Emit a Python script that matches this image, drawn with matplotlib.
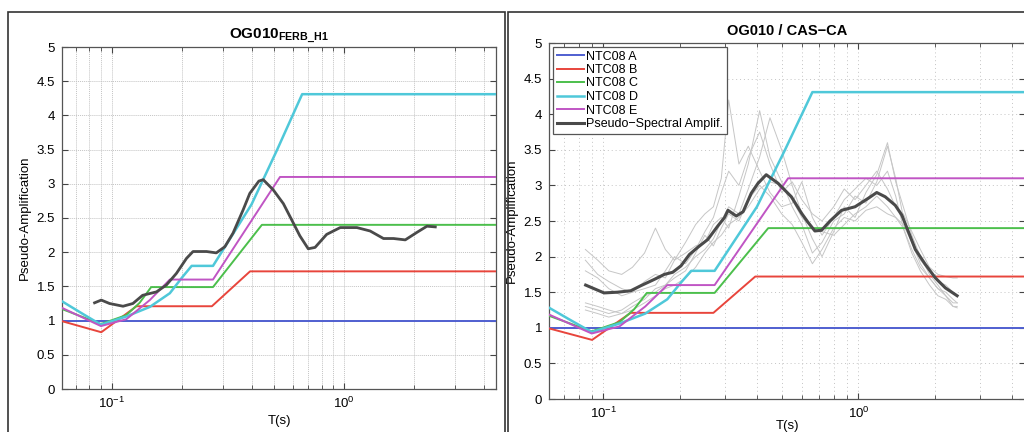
import numpy as np
import matplotlib
matplotlib.use('Agg')
import matplotlib.pyplot as plt
from matplotlib.patches import Rectangle
from matplotlib.ticker import FixedLocator, FixedFormatter, LogLocator, NullFormatter

plt.rcParams['font.family'] = ['Liberation Sans', 'DejaVu Sans']
plt.rcParams['mathtext.fontset'] = 'custom'
plt.rcParams['mathtext.rm'] = 'Liberation Sans'
plt.rcParams['mathtext.bf'] = 'Liberation Sans:bold'

# NTC08 amplification curves (periods in s, amplification)
ntc_a_t = [0.06, 4.5]
ntc_a = [1.0, 1.0]
ntc_b_t = [0.06, 0.0903, 0.128, 0.27, 0.394, 4.5]
ntc_b = [1.0, 0.83, 1.21, 1.21, 1.72, 1.72]
ntc_c_t = [0.06, 0.09, 0.1157, 0.132, 0.148, 0.273, 0.443, 4.5]
ntc_c = [1.18, 0.95, 1.08, 1.26, 1.49, 1.49, 2.40, 2.40]
ntc_d_t = [0.06, 0.075, 0.09, 0.1157, 0.146, 0.178, 0.202, 0.221, 0.273, 0.40, 0.514, 0.66, 4.5]
ntc_d = [1.30, 1.10, 0.94, 1.06, 1.20, 1.40, 1.64, 1.80, 1.80, 2.70, 3.49, 4.31, 4.31]
ntc_e_t = [0.06, 0.09, 0.1157, 0.146, 0.178, 0.273, 0.53, 4.5]
ntc_e = [1.20, 0.92, 1.02, 1.30, 1.60, 1.60, 3.10, 3.10]

# OG010 FERB_H1 pseudo-spectral amplification
ferb_t = [0.0845, 0.0859, 0.0903, 0.098, 0.112, 0.1235, 0.136, 0.156, 0.172, 0.190,
          0.210, 0.224, 0.256, 0.282, 0.307, 0.333, 0.368, 0.393, 0.43, 0.449, 0.496,
          0.548, 0.604, 0.645, 0.701, 0.75, 0.841, 0.962, 1.135, 1.294, 1.477, 1.632,
          1.832, 2.057, 2.271, 2.467]
ferb = [1.26, 1.27, 1.30, 1.25, 1.21, 1.25, 1.37, 1.42, 1.52, 1.69,
        1.91, 2.01, 2.01, 1.99, 2.08, 2.28, 2.62, 2.86, 3.04, 3.06, 2.91,
        2.71, 2.43, 2.24, 2.05, 2.07, 2.26, 2.36, 2.36, 2.31, 2.20, 2.20,
        2.18, 2.29, 2.38, 2.37]

# OG010 / CAS-CA mean pseudo-spectral amplification
cas_t = [0.0852, 0.1006, 0.1135, 0.128, 0.140, 0.1584, 0.1734, 0.187, 0.2015, 0.2175,
         0.2345, 0.2566, 0.281, 0.2987, 0.308, 0.332, 0.353, 0.380, 0.404, 0.435,
         0.484, 0.546, 0.598, 0.635, 0.675, 0.717, 0.774, 0.859, 0.970, 1.094,
         1.18, 1.274, 1.395, 1.481, 1.574, 1.672, 1.830, 2.004, 2.193, 2.438]
cas = [1.60, 1.49, 1.50, 1.52, 1.59, 1.68, 1.75, 1.78, 1.87, 2.03,
       2.13, 2.24, 2.43, 2.55, 2.65, 2.57, 2.63, 2.89, 3.03, 3.15,
       3.03, 2.84, 2.61, 2.48, 2.36, 2.37, 2.50, 2.65, 2.70, 2.82,
       2.90, 2.84, 2.72, 2.58, 2.34, 2.10, 1.89, 1.70, 1.56, 1.45]

# individual records (CAS-CA)
rec_t = [0.085, 0.095, 0.105, 0.118, 0.13, 0.145, 0.16, 0.175, 0.19, 0.21, 0.23, 0.25,
         0.27, 0.29, 0.31, 0.34, 0.37, 0.41, 0.45, 0.50, 0.55, 0.60, 0.66, 0.72, 0.80,
         0.88, 0.97, 1.07, 1.18, 1.30, 1.40, 1.50, 1.62, 1.75, 1.90, 2.05, 2.20, 2.35, 2.44]
rec1 = [2.10, 1.95, 1.80, 1.75, 1.85, 2.05, 2.40, 2.10, 1.95, 2.20, 2.45, 2.60,
        2.70, 3.10, 4.20, 3.30, 3.55, 3.20, 2.90, 2.70, 2.75, 3.05, 2.55, 2.30, 2.55,
        2.80, 2.95, 3.10, 3.00, 3.20, 2.85, 2.40, 2.10, 1.85, 1.70, 1.55, 1.50, 1.40, 1.35]
rec2 = [1.80, 1.70, 1.55, 1.45, 1.50, 1.65, 1.75, 1.70, 1.95, 2.05, 2.15, 2.20,
        2.45, 2.55, 2.40, 2.85, 3.30, 4.05, 3.40, 3.05, 2.70, 2.45, 2.05, 2.20, 2.50,
        2.60, 2.85, 2.75, 3.05, 3.55, 3.10, 2.55, 2.20, 1.95, 1.80, 1.65, 1.60, 1.50, 1.45]
rec3 = [1.35, 1.30, 1.25, 1.20, 1.30, 1.40, 1.55, 1.60, 1.75, 1.85, 2.00, 2.10,
        2.25, 2.50, 2.70, 2.60, 2.95, 3.40, 3.95, 3.50, 3.00, 2.60, 2.25, 2.00, 2.35,
        2.70, 2.55, 2.90, 3.15, 3.60, 3.05, 2.70, 2.30, 2.00, 1.75, 1.60, 1.45, 1.30, 1.28]
rec4 = [1.30, 1.25, 1.20, 1.25, 1.35, 1.45, 1.50, 1.60, 1.70, 1.80, 2.05, 2.30,
        2.15, 2.40, 2.60, 2.50, 2.80, 3.00, 2.85, 2.60, 2.45, 2.20, 1.90, 2.10, 2.40,
        2.55, 2.50, 2.65, 2.70, 2.60, 2.55, 2.40, 2.05, 1.80, 1.60, 1.45, 1.40, 1.30, 1.30]
rec5 = [1.95, 1.75, 1.65, 1.55, 1.50, 1.55, 1.60, 1.80, 2.00, 1.90, 2.10, 2.35,
        2.55, 2.90, 3.20, 3.00, 3.40, 3.75, 3.30, 2.90, 3.05, 2.80, 2.60, 2.50, 2.70,
        2.95, 2.80, 3.00, 3.20, 2.95, 2.70, 2.60, 2.35, 2.10, 1.85, 1.75, 1.72, 1.70, 1.70]
rec6 = [1.25, 1.20, 1.15, 1.20, 1.25, 1.35, 1.45, 1.55, 1.60, 1.70, 1.85, 2.05,
        2.20, 2.30, 2.45, 2.55, 2.70, 2.95, 3.05, 3.00, 2.80, 2.55, 2.40, 2.35, 2.30,
        2.45, 2.60, 2.70, 2.85, 2.70, 2.55, 2.45, 2.20, 1.90, 1.70, 1.55, 1.45, 1.35, 1.35]
records = [rec1, rec2, rec3, rec4, rec5, rec6]

ntc_labels = ['NTC08 A', 'NTC08 B', 'NTC08 C', 'NTC08 D', 'NTC08 E']
ntc_colors = ['#4f5fd0', '#e8453c', '#4cbf4c', '#4fc8d9', '#c055c4']


def style_axis(ax, dotted, xpad):
    ax.set_xscale('log')
    ax.set_xlim(0.0612, 4.5)
    ax.set_ylim(0, 5)
    ax.set_yticks(np.arange(0, 5.01, 0.5))
    ax.set_yticklabels(['0', '0.5', '1', '1.5', '2', '2.5', '3', '3.5', '4', '4.5', '5'])
    ax.xaxis.set_major_locator(FixedLocator([0.1, 1.0]))
    ax.xaxis.set_major_formatter(FixedFormatter(['$10^{-1}$', '$10^{0}$']))
    ax.xaxis.set_minor_locator(LogLocator(base=10, subs=np.arange(2, 10)))
    ax.xaxis.set_minor_formatter(NullFormatter())
    ls = (0, (1, 3)) if dotted else (0, (1, 1))
    ax.grid(True, which='both', axis='x', color='#c4c4c4', lw=0.7, ls=ls)
    ax.grid(True, which='major', axis='y', color='#c4c4c4', lw=0.7, ls=ls)
    ax.tick_params(which='both', direction='in', top=True, right=True,
                   labelsize=9.5, color='#444444', pad=5)
    ax.tick_params(which='major', length=4)
    ax.tick_params(which='minor', length=3)
    for s in ax.spines.values():
        s.set_color('#555555')
        s.set_linewidth(0.9)
    ax.set_xlabel('T(s)', fontsize=9.5, labelpad=xpad)
    ax.set_ylabel('Pseudo-Amplification', fontsize=9.5, labelpad=4)


def draw_ntc(ax):
    ts = [ntc_a_t, ntc_b_t, ntc_c_t, ntc_d_t, ntc_e_t]
    vs = [ntc_a, ntc_b, ntc_c, ntc_d, ntc_e]
    for t, v, lab, c in zip(ts, vs, ntc_labels, ntc_colors):
        lw = 1.8 if lab.endswith('D') else 1.4
        ax.plot(t, v, color=c, lw=lw, label=lab, zorder=3)


fig = plt.figure(figsize=(10.24, 4.32), dpi=100)

# panel frames
fig.add_artist(Rectangle((8 / 1024, -0.05), 497 / 1024, 0.05 + 420 / 432,
                         transform=fig.transFigure, fill=False, ec='#333333', lw=1.2))
fig.add_artist(Rectangle((508 / 1024, -0.05), 0.6, 0.05 + 420 / 432,
                         transform=fig.transFigure, fill=False, ec='#333333', lw=1.2))

ax1 = fig.add_axes([62 / 1024, 43 / 432, 434 / 1024, 342 / 432])
ax2 = fig.add_axes([549 / 1024, 33 / 432, 476 / 1024, 356 / 432])

# left panel
style_axis(ax1, dotted=False, xpad=3)
draw_ntc(ax1)
ax1.plot(ferb_t, ferb, color='#4a4a4a', lw=2.0, zorder=4)
ax1.set_title('OG010$_{\\mathbf{FERB\\_H1}}$', fontsize=11, fontweight='bold', pad=6)

# right panel
style_axis(ax2, dotted=True, xpad=-1)
for r in records:
    ax2.plot(rec_t, r, color='#c6c6c6', lw=0.7, zorder=2)
draw_ntc(ax2)
ax2.plot(cas_t, cas, color='#4a4a4a', lw=2.2, zorder=4, label='Pseudo\u2212Spectral Amplif.')
ax2.set_title('OG010 / CAS\u2212CA', fontsize=10.5, fontweight='bold', pad=6)
leg = ax2.legend(loc='upper left', fontsize=9, handlelength=2.2, handletextpad=0.2,
                 labelspacing=0.12, borderpad=0.3, borderaxespad=0.3,
                 fancybox=False, framealpha=1, edgecolor='#555555')
leg.get_frame().set_linewidth(0.9)

fig.savefig('out.png', dpi=100)
